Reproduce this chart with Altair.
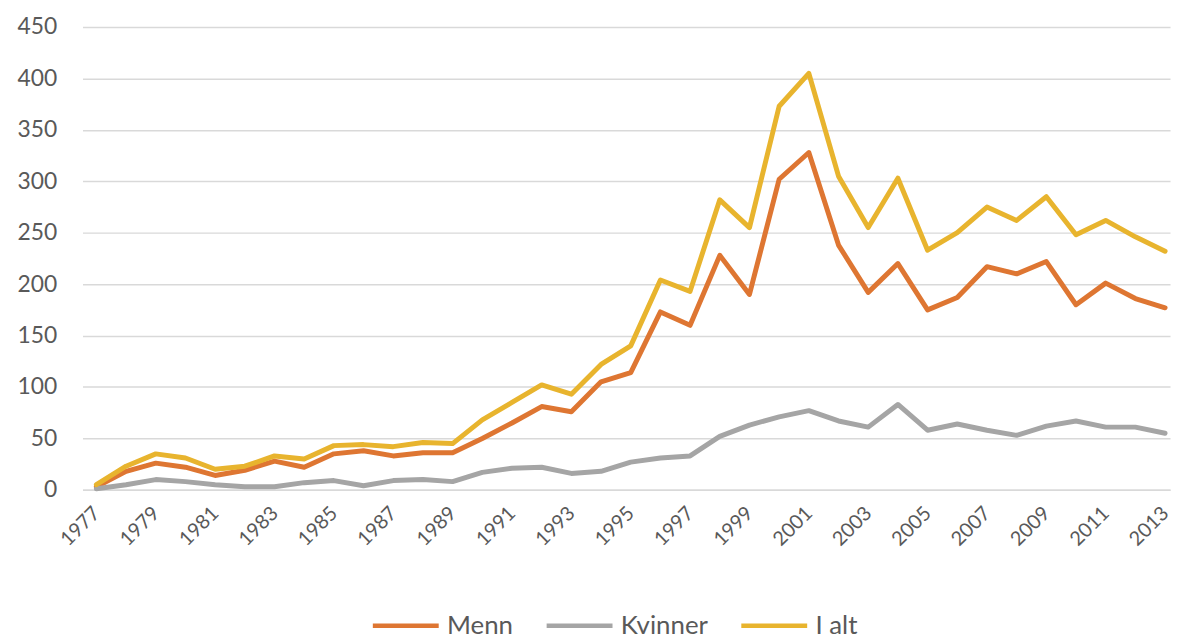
import altair as alt
import pandas as pd

years = list(range(1977, 2014))
menn = [3, 18, 26, 22, 14, 19, 28, 22, 35, 38, 33, 36, 36, 50, 65, 81, 76, 105, 114,
        173, 160, 228, 190, 302, 328, 238, 192, 220, 175, 187, 217, 210, 222, 180, 201, 186, 177]
kvinner = [1, 5, 10, 8, 5, 3, 3, 7, 9, 4, 9, 10, 8, 17, 21, 22, 16, 18, 27,
           31, 33, 52, 63, 71, 77, 67, 61, 83, 58, 64, 58, 53, 62, 67, 61, 61, 55]
ialt = [5, 23, 35, 31, 20, 23, 33, 30, 43, 44, 42, 46, 45, 68, 85, 102, 93, 122, 140,
        204, 193, 282, 255, 373, 405, 305, 255, 303, 233, 250, 275, 262, 285, 248, 262, 246, 232]
series = ["Menn", "Kvinner", "I alt"]
colors = ["#DE7632", "#A5A5A5", "#E8B42E"]
x_ticks = list(range(1977, 2014, 2))
y_ticks = list(range(0, 451, 50))

rows = []
for name, vals in zip(series, [menn, kvinner, ialt]):
    for yr, v in zip(years, vals):
        rows.append({"year": yr, "value": v, "serie": name})
df = pd.DataFrame(rows)

font = "Lato"
chart = alt.Chart(df).mark_line(strokeWidth=5, strokeJoin="round", strokeCap="round").encode(
    x=alt.X("year:Q",
            scale=alt.Scale(domain=[1976.532, 2013.167], nice=False, zero=False),
            axis=alt.Axis(values=x_ticks, labelAngle=-45, labelFontSize=20, labelColor="#595959",
                          labelFont=font, grid=False, ticks=False, domainColor="#D9D9D9",
                          domainWidth=1.5, labelPadding=13, labelOffset=-7, title=None, format="d",
                          labelOverlap=False, labelFlush=False)),
    y=alt.Y("value:Q",
            scale=alt.Scale(domain=[0, 450], nice=False),
            axis=alt.Axis(values=y_ticks, labelFontSize=23, labelColor="#595959", labelFont=font,
                          gridColor="#D9D9D9", gridWidth=1.5, domain=False, ticks=False,
                          labelPadding=26, title=None)),
    color=alt.Color("serie:N", scale=alt.Scale(domain=series, range=colors),
                    legend=alt.Legend(title=None, orient="none", direction="horizontal",
                                      legendX=290, legendY=567, symbolType="stroke",
                                      symbolSize=4400, symbolStrokeWidth=4.5,
                                      labelFontSize=26, labelColor="#595959", labelFont=font,
                                      labelOffset=6, columnPadding=24, symbolOffset=0)),
    order=alt.Order("year:Q"),
).properties(
    width=1095, height=466,
    padding={"left": 75, "top": 17, "right": 3, "bottom": 148},
    autosize=alt.AutoSizeParams(type="none"),
).configure_view(stroke=None)

chart.save("out.html", embed_options={"renderer": "svg", "actions": False})
